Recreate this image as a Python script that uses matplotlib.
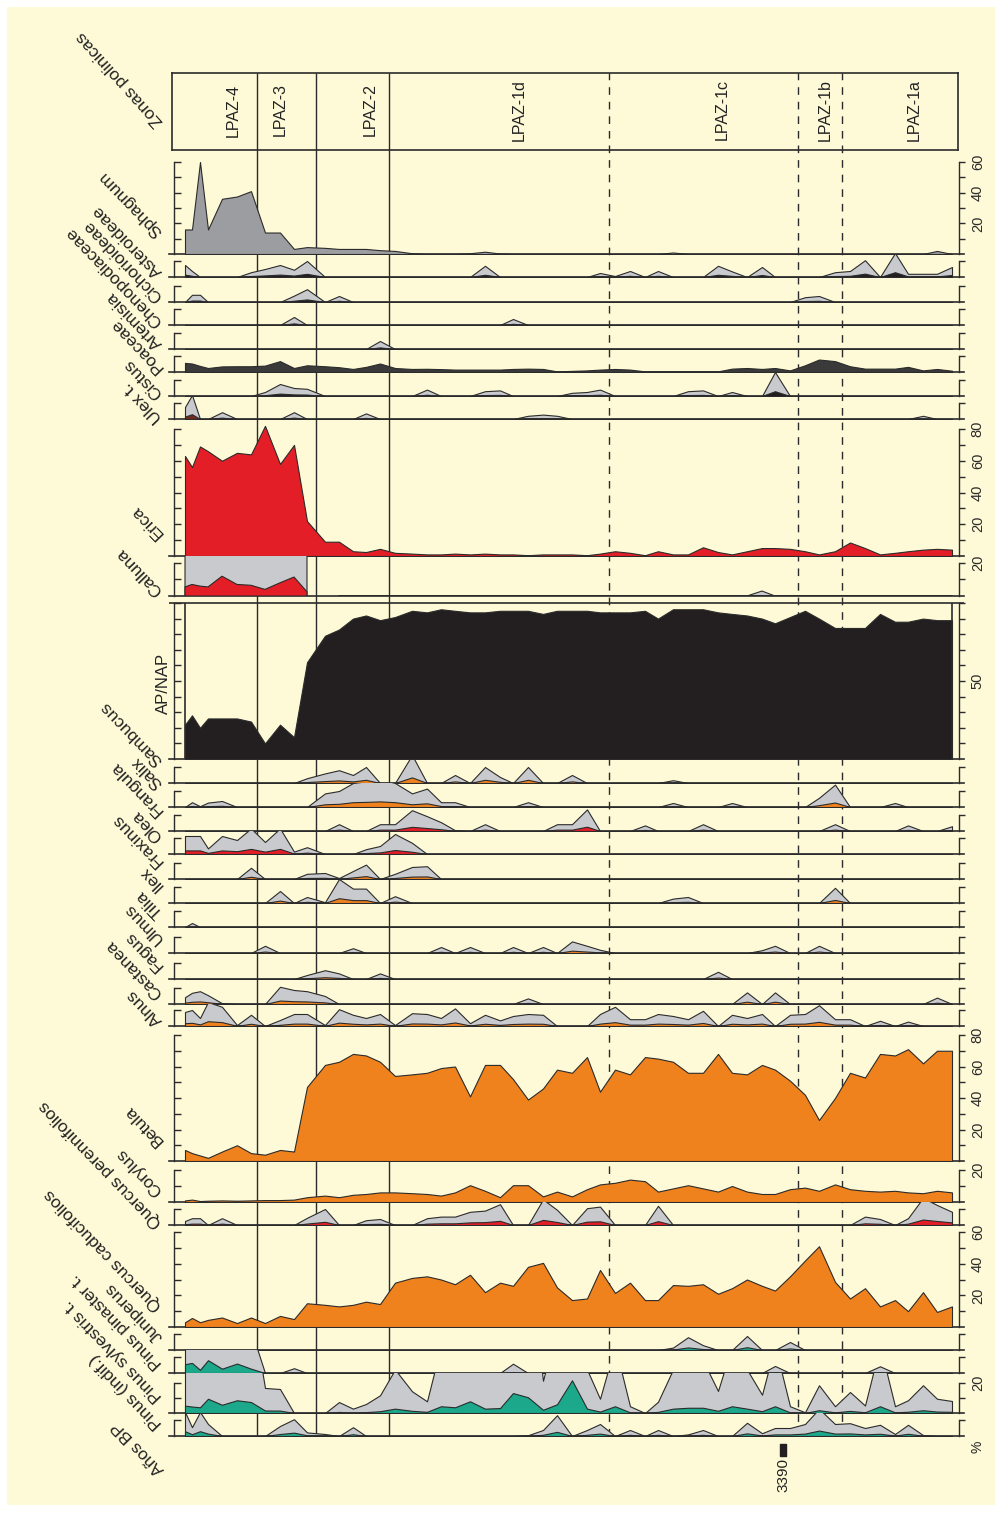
import numpy as np
import matplotlib
matplotlib.use('Agg')
import matplotlib.pyplot as plt
from matplotlib.patches import Rectangle

plt.rcParams['font.family'] = ['Liberation Sans', 'DejaVu Sans']

# --- datos ---------------------------------------------------------------
# posicion de las muestras a lo largo del sondeo (unidades relativas)
prof = np.array([185, 192, 200, 208, 222, 237, 251, 265, 280, 294, 307, 325, 339, 353, 366,
                 380, 395, 412, 427, 441, 455, 470, 485, 500, 513, 528, 543, 557, 572, 587,
                 600, 615, 630, 645, 658, 673, 688, 703, 718, 732, 747, 762, 775, 790, 805,
                 819, 835, 850, 865, 880, 895, 908, 923, 937, 952])
N = len(prof)

zonas_lim = [257, 316, 389]          # limites principales
subzonas_lim = [609, 798, 842]       # limites de subzona (discontinuos)
zonas_nom = ['LPAZ-4', 'LPAZ-3', 'LPAZ-2', 'LPAZ-1d', 'LPAZ-1c', 'LPAZ-1b', 'LPAZ-1a']
zonas_pos = [233, 280, 370, 519, 722, 825, 914]

fechas_pos = [783]
fechas_lab = ['3390']


def serie(d):
    v = np.zeros(N)
    for i, x in d.items():
        v[i] = x
    return v


sphagnum = np.array([16, 16, 60, 16, 36, 37.5, 41, 14, 14, 3.3, 4.5, 4, 3.3, 3.3, 3.3, 2.5, 2, 0.5, 0, 0,
                     0, 0.5, 1.5, 0.3, 0, 0, 0, 0, 0, 0, 0, 0, 0, 0, 0, 1, 0, 0, 0, 0,
                     0, 0, 0, 0, 0, 0, 0, 0, 0, 0, 0, 0, 0, 2, 0])
asteroideae = serie({0: 1.5, 1: 0.75, 6: 0.6, 7: 1.0, 8: 1.5, 9: 0.9, 10: 2.0, 22: 1.4, 30: 0.5, 31: 0.12,
                     32: 0.75, 34: 0.75, 38: 1.4, 39: 0.7, 41: 1.25, 46: 0.6, 47: 0.75, 48: 2.1, 50: 3.0,
                     51: 0.4, 52: 0.4, 53: 0.4, 54: 1.25})
cichorioideae = serie({1: 0.9, 2: 0.9, 9: 0.8, 10: 1.6, 12: 0.75, 44: 0.6, 45: 0.75})
chenopodiaceae = serie({9: 1.0, 24: 0.75})
artemisia = serie({15: 1.0})
poaceae = np.array([5.7, 5.3, 3.8, 2.5, 3.5, 3.6, 3.6, 4.0, 6.8, 2.5, 4.2, 3.6, 3.0, 1.9, 3.2, 5.3, 2.5, 1.9,
                    2.0, 1.8, 1.5, 1.5, 1.5, 1.5, 1.9, 2.1, 1.9, 0.4, 0.7, 1.0, 1.5, 1.9, 1.5, 0.4, 0.4, 0.4,
                    0.4, 0.4, 0.4, 2.1, 2.5, 1.9, 2.5, 1.0, 4.2, 7.8, 6.8, 3.6, 2.1, 2.1, 2.1, 3.2, 1.0, 1.9, 0.8])
cistus = serie({7: 0.5, 8: 1.5, 9: 1.0, 10: 0.9, 18: 0.8, 22: 0.6, 23: 0.7, 28: 0.4, 29: 0.5, 30: 0.8,
                36: 0.6, 37: 0.7, 39: 0.5, 42: 3.0})
ulex = serie({0: 1.5, 1: 3.0, 4: 0.85, 9: 0.85, 14: 0.7, 25: 0.4, 26: 0.55, 27: 0.4, 52: 0.4})
erica = np.array([63, 56, 69, 66, 60, 65, 64, 82, 58, 70, 22, 9, 9, 3, 2.5, 4.5, 2, 1.5, 1, 1,
                  1.5, 1, 1.5, 1, 1, 0.5, 1, 1, 1, 0.5, 1.5, 3, 2, 0.5, 3, 1, 1, 5.5, 2.5, 1,
                  3, 5, 5, 4.5, 3, 1, 3, 8.5, 5, 1, 2, 3, 4, 4.5, 4])
calluna = serie({41: 0.3})
calluna[:11] = [5.5, 7, 6, 5.5, 12, 7, 6.5, 4, 8, 11.5, 2.5]
calluna[11] = np.nan  # fin del recuento continuo
ap_nap = np.array([22, 28, 20, 26, 26, 26, 24, 10, 22, 14, 62, 79, 83, 90, 92, 89, 91, 95, 94, 96,
                   95, 94, 94, 95, 95, 95, 93, 95, 95, 95, 94, 94, 94, 95, 90, 96, 96, 96, 94, 93,
                   92, 90, 87, 91, 95, 90, 84, 84, 84, 93, 88, 88, 90, 89, 89])
sambucus = serie({10: 0.6, 11: 1.2, 12: 1.6, 13: 1.0, 14: 2.0, 17: 3.5, 20: 1.0, 22: 2.0, 23: 0.75,
                  25: 2.0, 28: 1.0, 35: 0.35})
salix = serie({1: 0.6, 2: 0.1, 3: 0.55, 4: 0.75, 11: 1.7, 12: 2.0, 13: 3.0, 14: 3.2, 15: 3.5, 16: 3.0,
               17: 1.7, 18: 2.3, 19: 0.6, 20: 0.6, 25: 0.6, 35: 0.5, 39: 0.5, 45: 1.15, 46: 2.8, 50: 0.5})
frangula = serie({12: 0.85, 15: 0.85, 16: 0.85, 17: 2.6, 18: 1.85, 19: 1.1, 20: 0.1, 22: 0.85, 27: 0.85,
                  28: 0.85, 29: 2.7, 33: 0.7, 37: 0.85, 46: 0.85, 51: 0.7, 54: 0.6})
olea = serie({0: 2.25, 1: 2.25, 2: 2.25, 3: 0.7, 4: 2.25, 5: 1.75, 6: 3.2, 7: 1.5, 8: 3.2, 9: 0.3,
              10: 0.85, 14: 0.6, 15: 1.0, 16: 2.5, 17: 1.4})
fraxinus = serie({6: 1.4, 10: 0.65, 11: 0.75, 12: 0.12, 13: 1.0, 14: 1.8, 16: 0.65, 17: 1.5, 18: 1.6})
ilex = serie({8: 1.5, 10: 0.75, 11: 0.1, 12: 3.0, 13: 1.8, 14: 1.8, 16: 0.85, 35: 0.55, 36: 0.75, 46: 1.9})
tilia = serie({1: 0.5})
ulmus = serie({7: 0.9, 13: 0.6, 19: 0.75, 21: 0.75, 24: 0.75, 26: 0.75, 28: 1.45, 29: 0.9, 30: 0.4,
               41: 0.35, 42: 0.9, 45: 0.9})
fagus = serie({10: 0.5, 11: 1.1, 12: 0.7, 15: 0.7, 38: 0.9})
castanea = serie({0: 0.85, 1: 1.4, 2: 1.6, 3: 1.1, 4: 0.1, 8: 2.15, 9: 1.75, 10: 1.6, 11: 1.0, 25: 0.7,
                  40: 1.45, 42: 1.45, 53: 0.8})
alnus = np.array([1.75, 2.0, 1.0, 3.0, 2.4, 0.12, 1.4, 0, 0.75, 1.5, 1.5, 0.12, 2.1, 1.4, 1.0, 1.5, 0.12,
                  1.6, 1.5, 1.0, 2.2, 0.35, 1.4, 0.7, 1.25, 1.5, 1.4, 0, 0, 0, 1.5, 2.4, 0.85, 0.85, 1.5,
                  1.25, 0.85, 1.9, 0, 1.4, 1.0, 1.5, 0, 1.4, 1.5, 2.6, 0.85, 0.85, 0, 0.65, 0, 0.55, 0, 0, 0])
betula = np.array([7, 5, 3.5, 2, 6, 10, 5, 4, 7, 6, 47, 61, 63, 68, 67, 63, 54, 55, 56, 59,
                   60, 41, 61, 61, 52, 39, 46, 58, 56, 66, 44, 58, 55, 66, 65, 63, 56, 56, 68, 56,
                   55, 61, 58, 51, 42, 26, 40, 56, 53, 68, 67, 71, 62, 70, 70])
corylus = np.array([1, 1.5, 0.6, 0.8, 1, 0.8, 1, 1.2, 1.2, 1.5, 3, 4, 3, 4.5, 5, 6, 6, 5.5, 5, 4,
                    6, 10.5, 7, 3, 10.5, 10.5, 3.5, 6.5, 3.5, 8, 11, 12, 14, 13, 6.5, 8.5, 10.5, 8.5, 6.5, 10,
                    6.5, 5, 5, 8, 9, 7, 11, 8, 7, 6.5, 7, 6, 5.5, 7, 6])
quercus_per = serie({0: 0.5, 1: 0.85, 2: 0.85, 4: 0.85, 10: 0.9, 11: 2.0, 14: 0.6, 15: 0.75, 18: 0.85,
                     19: 1.05, 20: 1.05, 21: 1.65, 22: 1.8, 23: 2.6, 26: 3.2, 27: 1.9, 29: 2.1, 30: 2.3,
                     34: 2.4, 48: 1.05, 49: 0.75, 51: 0.85, 52: 3.4, 53: 2.5, 54: 1.65})
quercus_cad = np.array([3, 5.7, 3, 4.5, 6, 2.5, 6, 2.5, 7, 5, 15, 14, 13, 14, 16, 14.5, 28, 31, 32, 30,
                        27, 33, 22, 28, 26, 38, 40.5, 25, 17, 18, 36, 21.5, 28, 17, 17, 26.5, 26, 27, 21, 24.5,
                        30, 26, 23, 32, 42, 51, 28.5, 18, 24.5, 13, 17, 10, 22, 9.5, 13])
juniperus = serie({35: 0.3, 36: 1.6, 37: 0.6, 40: 1.75, 43: 1.0})
pinus_pinaster = serie({0: 5.5, 1: 6.3, 2: 2.0, 3: 8.0, 4: 2.7, 5: 5.9, 6: 2.7, 9: 0.3, 24: 0.58,
                        42: 0.44, 49: 0.42})
pinus_sylvestris = np.array([4.9, 4.3, 3.8, 9.5, 5.5, 8.5, 7.3, 1.67, 1.6, 0, 0, 0, 0.73, 0.29, 0.6, 1.18,
                             2.9, 1.45, 0.78, 4.5, 3.8, 7.8, 2.9, 3.3, 13.3, 10.5, 2.15, 5.8, 21.8, 2.9,
                             0.95, 4.5, 0.45, 0, 0.75, 2.9, 3.5, 3.5, 1.47, 4.5, 2.9, 1.22, 4.5, 0.45,
                             0.05, 1.85, 0.45, 1.4, 0.5, 4.5, 0.45, 0.85, 1.85, 0.95, 0.8])
pinus_indif = serie({0: 3.0, 1: 1.1, 2: 3.0, 3: 1.5, 8: 1.25, 9: 2.1, 10: 0.45, 11: 0.25, 13: 1.1,
                     25: 0.1, 26: 0.75, 27: 2.6, 29: 0.75, 30: 1.5, 32: 0.75, 34: 0.75, 36: 0.2, 37: 0.75,
                     40: 1.65, 41: 0.35, 42: 1.0, 43: 1.0, 44: 1.5, 45: 3.4, 46: 1.5, 47: 1.6, 48: 1.0,
                     49: 1.4, 50: 0.25, 51: 1.4, 52: 0.12})

EXAG = 5
exag_panel = {'Calluna': 10, 'Pinus pinaster t.': 10, 'Pinus sylvestris t.': 10}

# --- estilo --------------------------------------------------------------
CREMA = '#FEF9D6'
LC = '#2b2b2b'
NARANJA = '#F0821E'
ROJO = '#E41E26'
VERDE = '#1CA88A'
NEGRO = '#231F20'
GRIS = '#C9CACE'
GRIS_OSC = '#9C9DA1'
OSCURO = '#3A3A3A'

W, H = 998, 1513
X0, X1 = 169, 964

fig = plt.figure(figsize=(W / 100, H / 100), dpi=100)
fig.patch.set_facecolor('white')
fig.patches.append(Rectangle((7 / W, 1 - 1505 / H), 988 / W, 1498 / H, transform=fig.transFigure,
                             facecolor=CREMA, edgecolor='none', zorder=-10))


def rect(x0, x1, ytop, ybot):
    return [x0 / W, 1 - ybot / H, (x1 - x0) / W, (ybot - ytop) / H]


# lineas de zona (fondo)
fondo = fig.add_axes(rect(X0, X1, 73, 1436))
fondo.set_xlim(X0, X1)
fondo.set_ylim(0, 1)
fondo.axis('off')
fondo.set_zorder(0)
fondo.vlines(zonas_lim, 0, 1, color=LC, lw=1.0)
fondo.vlines(subzonas_lim, 0, 1, color=LC, lw=1.0, linestyles=(0, (5.5, 5)))

# caja de zonas polinicas
caja = fig.add_axes(rect(172, 958, 73, 150))
caja.set_xlim(172, 958)
caja.set_ylim(0, 1)
caja.patch.set_visible(False)
caja.set_xticks([])
caja.set_yticks([])
for s in caja.spines.values():
    s.set_linewidth(1.2)
    s.set_color(LC)
caja.set_zorder(2)
for nom, x in zip(zonas_nom, zonas_pos):
    caja.text(x, 0.52, nom, rotation=90, ha='center', va='center', fontsize=11.5, color='#222')

# paneles: (nombre, valores, modo, color, y_sup, y_marca, y_base, valor_marca, etiquetas_dcha, y_etiqueta)
paneles = [
    ('Sphagnum', sphagnum, 'full', GRIS_OSC, 150, 162, 254, 60, (20, 40, 60), 234),
    ('Asteroideae', asteroideae, 'exag', NEGRO, 254, None, 277, 10, (), 274),
    ('Cichorioideae', cichorioideae, 'exag', NEGRO, 277, None, 302, 10, (), 299),
    ('Chenopodiaceae', chenopodiaceae, 'exag', NEGRO, 302, None, 325, 10, (), 324),
    ('Artemisia', artemisia, 'exag', NEGRO, 325, None, 349, 10, (), 346),
    ('Poaceae', poaceae, 'full', OSCURO, 349, None, 372, 10, (), 370),
    ('Cistus', cistus, 'exag', NEGRO, 372, None, 396, 10, (), 396),
    ('Ulex t.', ulex, 'exag', '#6E2A1C', 396, None, 419, 10, (), 420),
    ('Erica', erica, 'full', ROJO, 419, 429, 556, 80, (20, 40, 60, 80), 536),
    ('Calluna', calluna, 'exag', ROJO, 556, 563, 596, 20, (20,), 593),
    ('Sambucus', sambucus, 'exag', NARANJA, 759, None, 783, 10, (), 763),
    ('Salix', salix, 'exag', NARANJA, 783, None, 807, 10, (), 786),
    ('Frangula', frangula, 'exag', ROJO, 807, None, 831, 10, (), 813),
    ('Olea', olea, 'exag', ROJO, 831, None, 854, 10, (), 839),
    ('Fraxinus', fraxinus, 'exag', NARANJA, 854, None, 879, 10, (), 864),
    ('Ilex', ilex, 'exag', NARANJA, 879, None, 903, 10, (), 888),
    ('Tilia', tilia, 'exag', NARANJA, 903, None, 927, 10, (), 915),
    ('Ulmus', ulmus, 'exag', NARANJA, 927, None, 953, 10, (), 941),
    ('Fagus', fagus, 'exag', NARANJA, 953, None, 979, 10, (), 968),
    ('Castanea', castanea, 'exag', NARANJA, 979, None, 1004, 10, (), 996),
    ('Alnus', alnus, 'exag', NARANJA, 1004, None, 1026, 10, (), 1023),
    ('Betula', betula, 'full', NARANJA, 1026, 1035, 1161, 80, (20, 40, 60, 80), 1143),
    ('Corylus', corylus, 'full', NARANJA, 1161, 1170, 1202, 20, (20,), 1193),
    ('Quercus perennifolios', quercus_per, 'exag', ROJO, 1202, None, 1225, 10, (), 1225),
    ('Quercus caducifolios', quercus_cad, 'full', NARANJA, 1225, 1232, 1327, 60, (20, 40, 60), 1308),
    ('Juniperus', juniperus, 'exag', VERDE, 1327, None, 1350, 10, (), 1339),
    ('Pinus pinaster t.', pinus_pinaster, 'exag', VERDE, 1350, None, 1373, 10, (), 1366),
    ('Pinus sylvestris t.', pinus_sylvestris, 'exag', VERDE, 1373, 1383, 1413, 20, (20,), 1399),
    ('Pinus (indif.)', pinus_indif, 'exag', VERDE, 1413, None, 1436, 10, (), 1426),
]


def estilo_ejes(ax, vmarca, etiquetas):
    ax.patch.set_visible(False)
    ax.set_xlim(X0, X1)
    ax.set_xticks([])
    ax.spines['top'].set_visible(False)
    ax.spines['bottom'].set_linewidth(1.2)
    ax.spines['bottom'].set_color(LC)
    ax.spines['left'].set_position(('data', 174))
    ax.spines['left'].set_bounds(0, vmarca)
    ax.spines['right'].set_position(('data', 959))
    ax.spines['right'].set_bounds(0, vmarca)
    for s in ('left', 'right'):
        ax.spines[s].set_linewidth(1.0)
        ax.spines[s].set_color(LC)
    marcas = np.arange(10, vmarca + 0.1, 10)
    ax.yaxis.tick_right()
    ax.set_yticks(marcas)
    ax.set_yticklabels([str(int(m)) if int(m) in etiquetas else '' for m in marcas])
    ax.tick_params(axis='y', direction='out', length=4, width=1.0, pad=4.5, labelsize=10.5,
                   colors=LC, labelrotation=90)
    for t in ax.get_yticklabels():
        t.set_va('center')
    ax.hlines(marcas, 174, 180.5, color=LC, lw=1.0)


for nombre, vals, modo, color, ysup, ymarca, ybase, vmarca, etq, yetq in paneles:
    if ymarca is None:
        ymarca = ybase - 16
    ax = fig.add_axes(rect(X0, X1, ysup, ybase))
    ax.set_zorder(1)
    pxu = (ybase - ymarca) / vmarca
    ax.set_ylim(0, (ybase - ysup) / pxu)
    if modo == 'exag':
        ax.fill_between(prof, vals * exag_panel.get(nombre, EXAG), color=GRIS, ec=LC, lw=0.8, zorder=2)
    ax.fill_between(prof, vals, color=color, ec=LC, lw=0.8, zorder=3)
    estilo_ejes(ax, vmarca, etq)
    fig.text(160 / W, 1 - yetq / H, nombre, rotation=134, rotation_mode='anchor',
             ha='left', va='center', fontsize=12.5, color='#222')

# AP/NAP
ax = fig.add_axes(rect(X0, X1, 596, 759))
ax.set_zorder(1)
pxu = (759 - 603) / 100
ax.set_ylim(0, (759 - 596) / pxu)
ax.fill_between(prof, ap_nap, color=NEGRO, ec=LC, lw=0.8, zorder=3)
ax.vlines([prof[0], prof[-1]], 0, 100, color=LC, lw=1.2, zorder=4)
ax.axhline(100, color=LC, lw=1.2)
estilo_ejes(ax, 100, (50,))
fig.text(163 / W, 1 - 683 / H, 'AP/NAP', rotation=90, ha='center', va='center', fontsize=12,
         color='#222')

# fechas
axf = fig.add_axes(rect(X0, X1, 1436, 1505))
axf.set_xlim(X0, X1)
axf.set_ylim(0, 1)
axf.axis('off')
axf.plot(fechas_pos, [0.8] * len(fechas_pos), ls='none', color=NEGRO,
         marker=[(-3, -5.5), (3, -5.5), (3, 5.5), (-3, 5.5), (-3, -5.5)], markersize=8)
for x, t in zip(fechas_pos, fechas_lab):
    axf.text(x, 0.43, t, rotation=90, ha='center', va='center', fontsize=11, color='#222')

fig.text(160 / W, 1 - 124 / H, 'Zonas polinicas', rotation=132, rotation_mode='anchor',
         ha='left', va='center', fontsize=12.5, color='#222')
fig.text(162 / W, 1 - 1472 / H, 'Años BP', rotation=134, rotation_mode='anchor',
         ha='left', va='center', fontsize=12.5, color='#222')
fig.text(977 / W, 1 - 1447 / H, '%', rotation=90, ha='center', va='center', fontsize=10,
         color='#222')

fig.savefig('out.png', dpi=100)
